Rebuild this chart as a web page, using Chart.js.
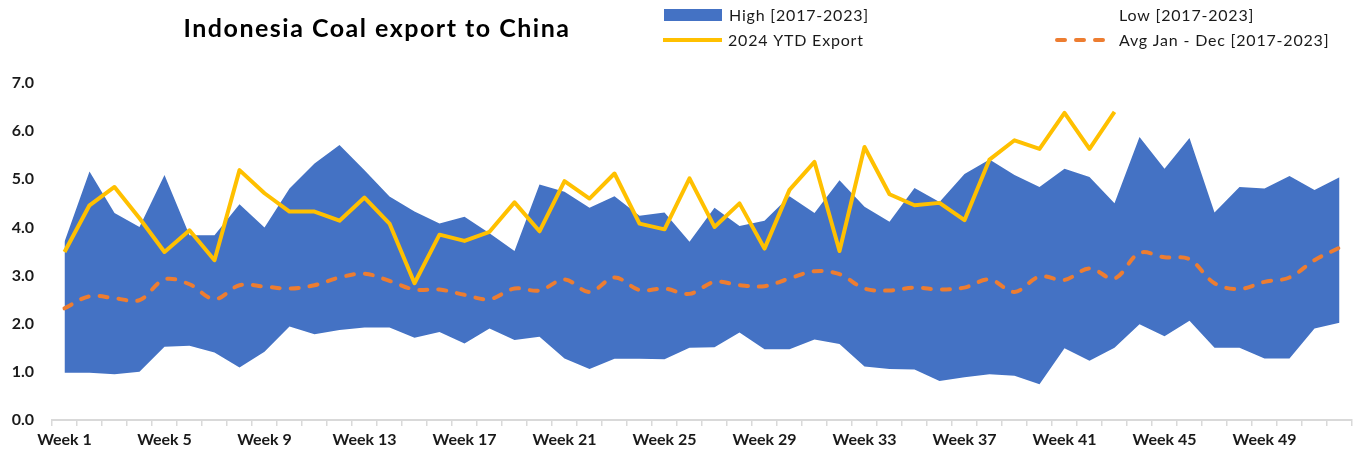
<!DOCTYPE html>
<html>
<head>
<meta charset="utf-8">
<script src="https://cdn.jsdelivr.net/npm/chart.js@4.4.1/dist/chart.umd.min.js"></script>
<style>
  html, body { margin: 0; padding: 0; background: #ffffff; }
  #wrap { width: 1359px; height: 457px; position: relative; }
</style>
</head>
<body>
<div id="wrap"><canvas id="chart" width="1359" height="457"></canvas></div>
<script>
// Weekly categories
const weeks = Array.from({ length: 52 }, (_, i) => 'Week ' + (i + 1));

// Weekly export ranges 2017-2023 (million tonnes)
const highValues = [
  3.70, 5.16, 4.30, 4.01, 5.09, 3.84, 3.84, 4.48, 4.00, 4.81, 5.33, 5.71,
  5.19, 4.64, 4.33, 4.08, 4.22, 3.88, 3.51, 4.89, 4.74, 4.41, 4.65, 4.24, 4.31, 3.70,
  4.41, 4.03, 4.14, 4.65, 4.30, 4.98, 4.43, 4.12, 4.82, 4.53, 5.11, 5.41, 5.09, 4.84,
  5.22, 5.05, 4.50, 5.88, 5.22, 5.86, 4.31, 4.84, 4.81, 5.07, 4.78, 5.04
];
const lowValues = [
  0.98, 0.98, 0.95, 1.00, 1.52, 1.54, 1.40, 1.09, 1.42, 1.94, 1.78, 1.87,
  1.92, 1.92, 1.71, 1.83, 1.59, 1.90, 1.66, 1.73, 1.28, 1.06, 1.27, 1.27, 1.26, 1.50,
  1.51, 1.82, 1.47, 1.47, 1.67, 1.58, 1.11, 1.06, 1.05, 0.81, 0.89, 0.95, 0.92, 0.74,
  1.49, 1.23, 1.50, 1.99, 1.74, 2.06, 1.50, 1.50, 1.28, 1.28, 1.90, 2.02
];
// 2024 year-to-date weekly export
const ytd2024 = [
  3.49, 4.46, 4.84, 4.19, 3.49, 3.94, 3.32, 5.19, 4.71, 4.33, 4.33, 4.14,
  4.62, 4.08, 2.84, 3.85, 3.72, 3.91, 4.52, 3.92, 4.96, 4.60, 5.12, 4.08, 3.96, 5.02,
  4.01, 4.50, 3.56, 4.78, 5.36, 3.51, 5.67, 4.69, 4.46, 4.51, 4.15, 5.41, 5.81, 5.63,
  6.38, 5.63, 6.40
];
// Weekly average 2017-2023
const avgValues = [
  2.32, 2.57, 2.53, 2.49, 2.92, 2.82, 2.51, 2.80, 2.77, 2.73, 2.80, 2.96,
  3.04, 2.89, 2.71, 2.71, 2.60, 2.51, 2.73, 2.69, 2.92, 2.66, 2.96, 2.70, 2.73, 2.62,
  2.87, 2.80, 2.78, 2.94, 3.09, 3.03, 2.73, 2.69, 2.75, 2.71, 2.75, 2.92, 2.66, 2.98,
  2.91, 3.15, 2.94, 3.47, 3.38, 3.34, 2.84, 2.72, 2.87, 2.96, 3.32, 3.58
];
const yTicks = [0, 1, 2, 3, 4, 5, 6, 7];

const BLUE = '#4472C4', YELLOW = '#FFC000', ORANGE = '#ED7D31';
const FONT = 'Lato, "Open Sans", "Noto Sans", sans-serif';

// Title and two-row legend drawn in the top band
const header = {
  id: 'header',
  afterDraw(chart) {
    const ctx = chart.ctx;
    ctx.save();
    ctx.fillStyle = '#000000';
    ctx.font = 'bold 25px ' + FONT;
    ctx.letterSpacing = '1.5px';
    ctx.textAlign = 'center';
    ctx.textBaseline = 'middle';
    ctx.fillText('Indonesia Coal export to China', 377, 29);

    const ds = chart.data.datasets;
    const items = [
      { d: ds[0], kind: 'box', x: 664, y: 15 },
      { d: ds[1], kind: 'none', x: 1054, y: 15 },
      { d: ds[2], kind: 'line', x: 663, y: 40 },
      { d: ds[3], kind: 'dash', x: 1054, y: 40 }
    ];
    ctx.font = '16px ' + FONT;
    ctx.letterSpacing = '0.8px';
    ctx.textAlign = 'left';
    items.forEach(it => {
      const w = 59;
      if (it.kind === 'box') {
        ctx.fillStyle = it.d.backgroundColor;
        ctx.fillRect(it.x, it.y - 6, w - 1, 12);
      } else if (it.kind === 'line' || it.kind === 'dash') {
        ctx.strokeStyle = it.d.borderColor;
        ctx.lineWidth = it.d.borderWidth;
        ctx.lineCap = it.kind === 'dash' ? 'round' : 'butt';
        ctx.setLineDash(it.kind === 'dash' ? it.d.borderDash : []);
        ctx.beginPath();
        ctx.moveTo(it.x + (it.kind === 'dash' ? 3 : 0), it.y);
        ctx.lineTo(it.x + w, it.y);
        ctx.stroke();
        ctx.setLineDash([]);
      }
      ctx.fillStyle = '#1a1a1a';
      ctx.fillText(it.d.label, it.x + w + 6, it.y + 1);
    });
    ctx.restore();
  }
};

new Chart(document.getElementById('chart'), {
  type: 'line',
  data: {
    labels: weeks,
    datasets: [
      {
        label: 'High [2017-2023]',
        data: highValues,
        backgroundColor: BLUE,
        borderColor: BLUE,
        borderWidth: 0,
        pointRadius: 0,
        tension: 0,
        fill: '+1',
        order: 10
      },
      {
        label: 'Low [2017-2023]',
        data: lowValues,
        backgroundColor: '#ffffff',
        borderColor: 'rgba(0,0,0,0)',
        borderWidth: 0,
        pointRadius: 0,
        tension: 0,
        fill: false,
        order: 9
      },
      {
        label: '2024 YTD Export',
        data: ytd2024,
        borderColor: YELLOW,
        backgroundColor: YELLOW,
        borderWidth: 4,
        pointRadius: 0,
        tension: 0,
        borderJoinStyle: 'round',
        fill: false,
        order: 1
      },
      {
        label: 'Avg Jan - Dec [2017-2023]',
        data: avgValues,
        borderColor: ORANGE,
        backgroundColor: ORANGE,
        borderWidth: 4,
        borderDash: [8, 11],
        borderCapStyle: 'round',
        pointRadius: 0,
        tension: 0.35,
        fill: false,
        order: 2
      }
    ]
  },
  options: {
    responsive: false,
    animation: false,
    events: [],
    layout: { padding: { top: 83, right: 7, left: 0, bottom: 0 } },
    plugins: {
      legend: { display: false },
      title: { display: false },
      tooltip: { enabled: false }
    },
    scales: {
      x: {
        type: 'category',
        offset: true,
        grid: {
          offset: true,
          drawOnChartArea: false,
          drawTicks: true,
          tickLength: 6,
          color: '#d9d9d9',
          lineWidth: 1.5
        },
        border: { display: true, color: '#d9d9d9', width: 2 },
        ticks: {
          autoSkip: false,
          maxRotation: 0,
          padding: 4,
          color: '#1a1a1a',
          font: { family: FONT, size: 16, weight: 'bold' },
          callback(value, index) { return index % 4 === 0 ? weeks[index] : ''; }
        },
        afterFit(scale) { scale.height = 37; }
      },
      y: {
        min: yTicks[0],
        max: yTicks[yTicks.length - 1],
        afterBuildTicks(scale) { scale.ticks = yTicks.map(v => ({ value: v })); },
        grid: { display: false, drawTicks: false },
        border: { display: false },
        ticks: {
          padding: 18,
          color: '#1a1a1a',
          font: { family: FONT, size: 16, weight: 'bold' },
          callback(v) { return Number(v).toFixed(1); }
        },
        afterFit(scale) { scale.width = 52; }
      }
    }
  },
  plugins: [header]
});
</script>
</body>
</html>
